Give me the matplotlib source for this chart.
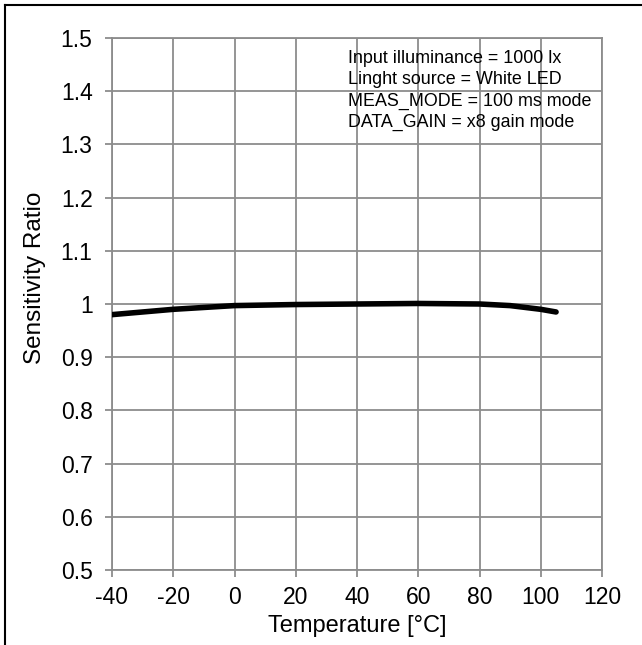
import matplotlib.pyplot as plt
from matplotlib.lines import Line2D

plt.rcParams['font.family'] = ['Liberation Sans', 'DejaVu Sans']

# data
temp = [-40, -20, 0, 20, 40, 60, 80, 90, 100, 105]
ratio = [0.980, 0.990, 0.997, 0.999, 1.000, 1.001, 1.000, 0.997, 0.990, 0.985]

xticks = [-40, -20, 0, 20, 40, 60, 80, 100, 120]
xlabels = ['-40', '-20', '0', '20', '40', '60', '80', '100', '120']
yticks = [0.5, 0.6, 0.7, 0.8, 0.9, 1.0, 1.1, 1.2, 1.3, 1.4, 1.5]
ylabels = ['0.5', '0.6', '0.7', '0.8', '0.9', '1', '1.1', '1.2', '1.3', '1.4', '1.5']
notes = ['Input illuminance = 1000 lx',
         'Linght source = White LED',
         'MEAS_MODE = 100 ms mode',
         'DATA_GAIN = x8 gain mode']

fig = plt.figure(figsize=(6.42, 6.45), dpi=100)
ax = fig.add_axes([112/642, 1 - 570/645, 490/642, 532/645])

grey = '#8c8c8c'
ax.plot(temp, ratio, color='black', lw=4, solid_capstyle='round', zorder=3)

ax.set_xlim(-40, 120)
ax.set_ylim(0.5, 1.5)
ax.set_xticks(xticks)
ax.set_xticklabels(xlabels)
ax.set_yticks(yticks)
ax.set_yticklabels(ylabels)
ax.grid(True, color=grey, lw=1.3)
ax.set_axisbelow(True)
for s in ax.spines.values():
    s.set_color(grey)
    s.set_linewidth(1.3)
ax.tick_params(direction='out', length=5, width=1.3, color=grey,
               labelsize=16.5)
ax.tick_params(axis='y', pad=9)
ax.tick_params(axis='x', pad=6.5)

ax.set_xlabel('Temperature [°C]', fontsize=17, labelpad=4)
ax.set_ylabel('Sensitivity Ratio', fontsize=17.5)
ax.yaxis.set_label_coords(-0.135, 0.549)

ax.text(0.482, 0.977, '\n'.join(notes), transform=ax.transAxes,
        fontsize=12.9, va='top', ha='left', linespacing=1.32)

# outer frame (top and left only visible)
fig.add_artist(Line2D([5/642, 5/642], [0, 1 - 5/645], color='black', lw=1.5,
                      transform=fig.transFigure))
fig.add_artist(Line2D([5/642, 1], [1 - 5/645, 1 - 5/645], color='black', lw=1.5,
                      transform=fig.transFigure))

fig.savefig('out.png', dpi=100)
